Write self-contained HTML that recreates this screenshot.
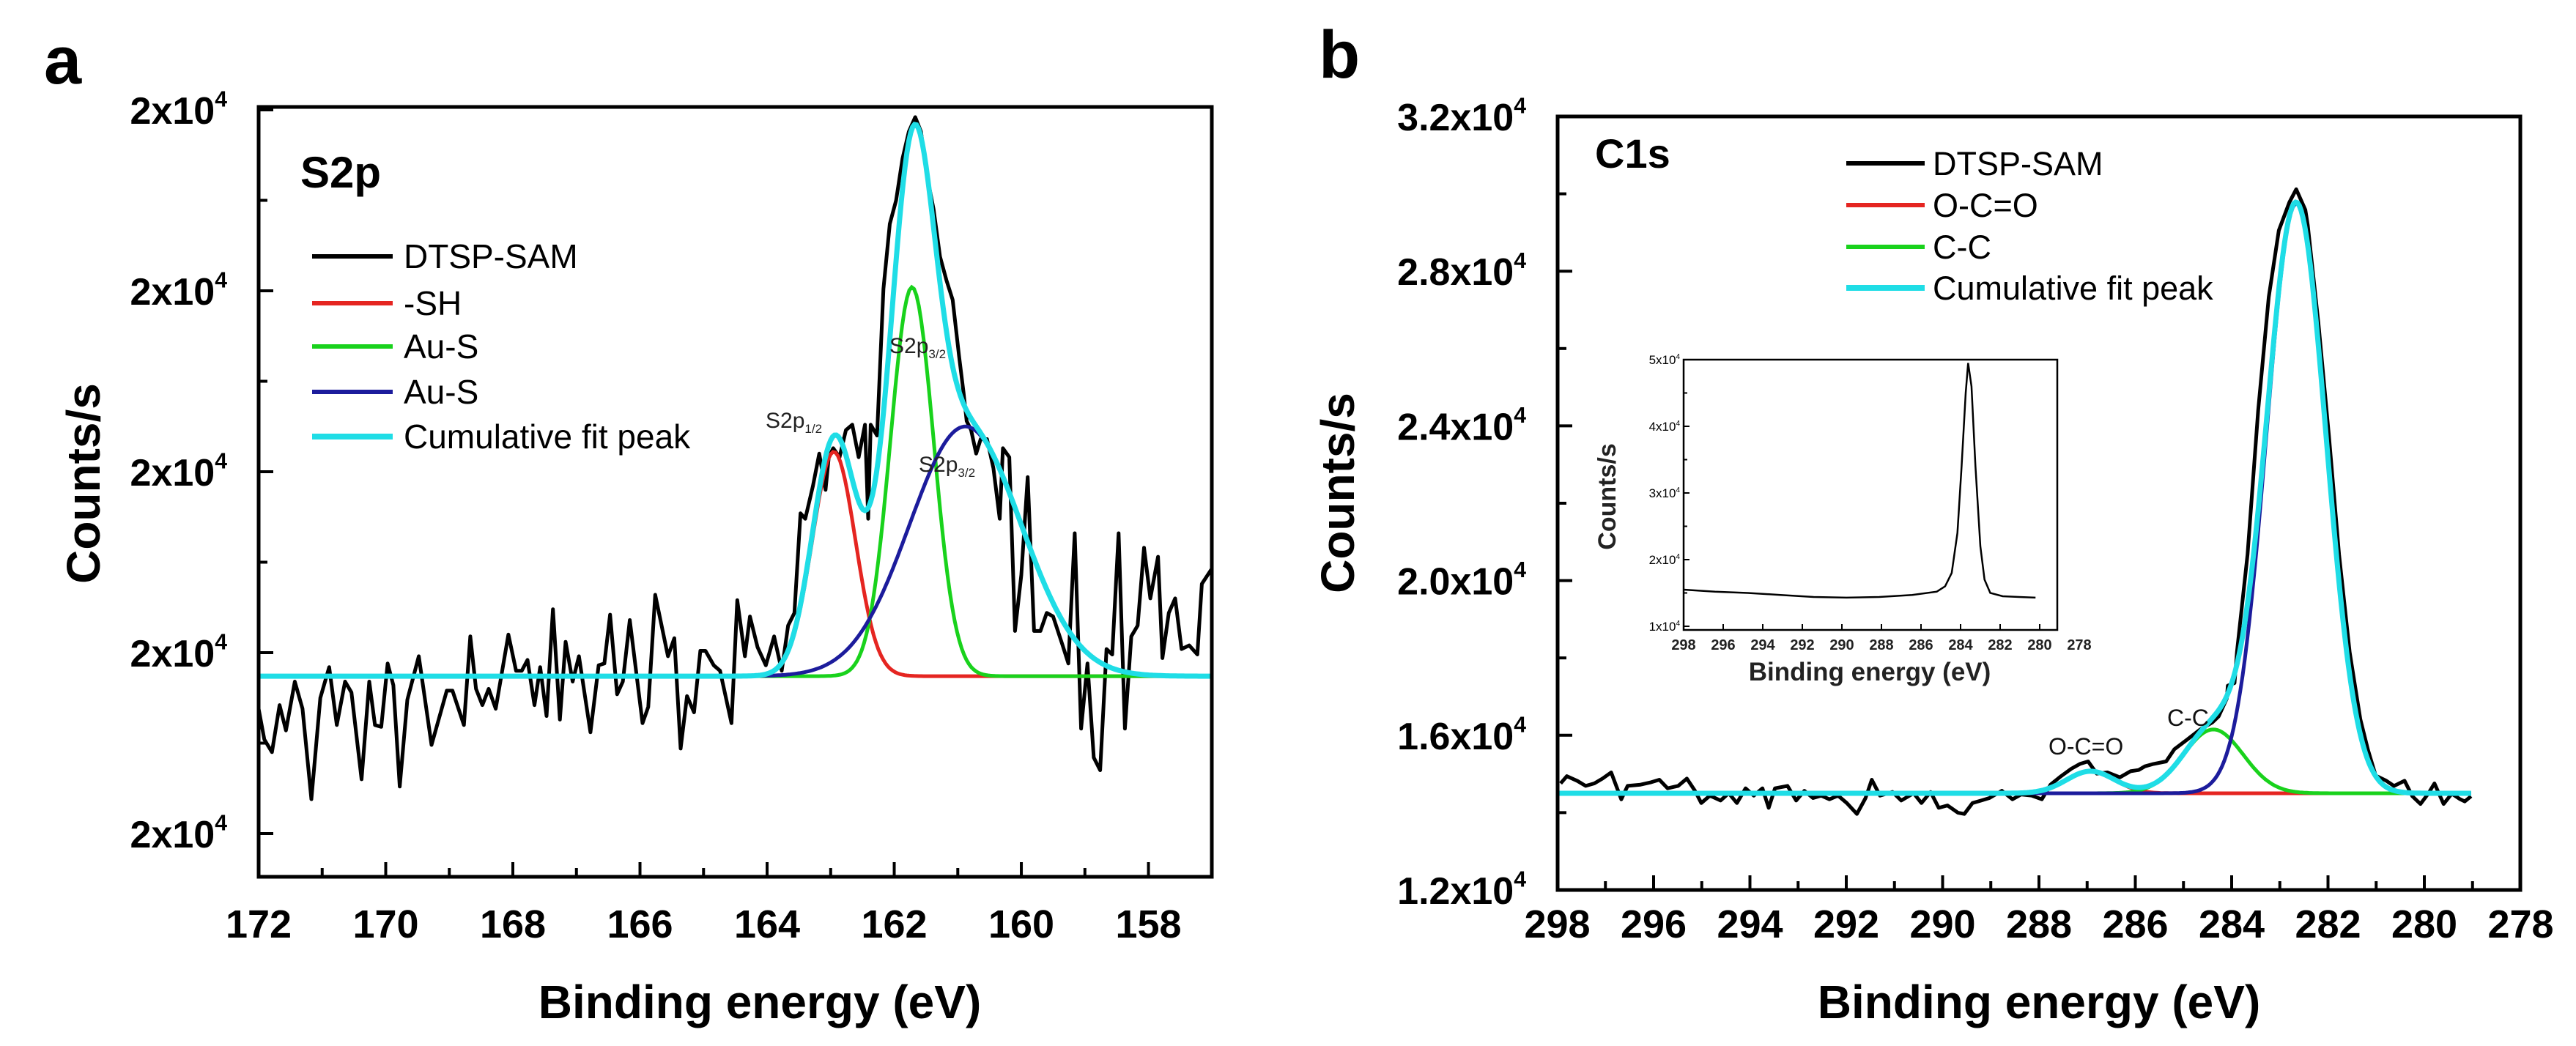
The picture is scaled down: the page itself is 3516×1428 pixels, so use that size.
<!DOCTYPE html>
<html><head><meta charset="utf-8"><style>
html,body{margin:0;padding:0;background:#fff;}
svg{display:block;font-family:"Liberation Sans",Arial,sans-serif;}
</style></head><body>
<svg id="fig" width="3516" height="1428" viewBox="0 0 3516 1428" xmlns="http://www.w3.org/2000/svg"></svg>
<script>
// ---------- Panel a (S2p) data ----------
const aEnergy = [172.0,171.91,171.79,171.67,171.57,171.43,171.31,171.17,171.03,170.89,170.77,170.64,170.54,170.38,170.26,170.17,170.07,169.97,169.88,169.78,169.66,169.48,169.28,169.04,168.95,168.77,168.67,168.58,168.48,168.38,168.27,168.07,167.95,167.86,167.77,167.66,167.57,167.47,167.37,167.26,167.17,167.06,166.96,166.78,166.65,166.56,166.47,166.36,166.27,166.16,165.96,165.87,165.76,165.56,165.46,165.36,165.26,165.15,165.05,164.97,164.84,164.74,164.56,164.47,164.35,164.27,164.15,164.02,163.89,163.77,163.67,163.57,163.475,163.40,163.28,163.18,163.08,163.03,162.96,162.86,162.76,162.66,162.56,162.46,162.41,162.37,162.27,162.17,162.07,161.97,161.87,161.77,161.67,161.58,161.48,161.38,161.28,161.18,161.08,160.98,160.91,160.86,160.79,160.71,160.64,160.54,160.44,160.34,160.29,160.19,160.10,160.00,159.90,159.80,159.70,159.60,159.50,159.35,159.26,159.16,159.06,158.96,158.86,158.76,158.66,158.57,158.47,158.37,158.27,158.17,158.07,157.97,157.85,157.78,157.68,157.58,157.48,157.36,157.23,157.16,157.01];
const aCounts = [20069,20052,20045,20071,20057,20084,20069,20019,20075,20092,20060,20084,20078,20030,20084,20060,20059,20094,20082,20026,20074,20098,20049,20079,20079,20060,20109,20080,20071,20080,20069,20110,20090,20090,20096,20071,20092,20065,20124,20063,20106,20084,20098,20056,20093,20094,20121,20077,20084,20118,20061,20070,20132,20098,20108,20047,20076,20067,20101,20101,20093,20090,20061,20129,20098,20120,20103,20093,20109,20090,20115,20122,20177,20174,20192,20210,20190,20208,20213,20208,20223,20226,20208,20226,20174,20226,20220,20301,20337,20350,20373,20388,20396,20388,20363,20345,20319,20306,20295,20264,20244,20228,20223,20210,20218,20218,20202,20174,20213,20208,20112,20143,20197,20112,20112,20122,20120,20104,20094,20166,20058,20094,20042,20035,20102,20099,20166,20058,20109,20115,20158,20130,20153,20097,20122,20130,20102,20104,20099,20138,20146];
const aBaseline = 20087;
const aPeakNames = ["-SH","Au-S","Au-S"];
const aPeakCenters = [162.95,161.72,160.88];
const aPeakHeights = [124,215,138];
const aPeakSigmas = [0.34,0.34,0.88];
const aYTicks = [20000,20100,20200,20300,20400];
const aYTickLabels = ["2x10","2x10","2x10","2x10","2x10"];
const aXTicks = [172,170,168,166,164,162,160,158];

// ---------- Panel b (C1s) data ----------
const bEnergy = [297.93,297.80,297.58,297.41,297.23,297.06,296.88,296.67,296.54,296.27,296.05,295.88,295.71,295.49,295.31,295.14,295.01,294.83,294.61,294.44,294.27,294.09,293.92,293.74,293.61,293.48,293.22,293.04,292.87,292.69,292.52,292.35,292.17,291.99,291.78,291.60,291.47,291.30,291.04,290.86,290.60,290.44,290.25,290.08,289.90,289.68,289.55,289.38,289.20,289.03,288.77,288.55,288.37,288.15,287.94,287.76,287.54,287.33,287.15,286.98,286.80,286.58,286.32,286.10,285.93,285.80,285.62,285.36,285.19,284.92,284.66,284.40,284.27,284.10,284.08,283.94,283.89,283.67,283.45,283.23,283.02,282.80,282.66,282.47,282.42,282.20,281.98,281.77,281.55,281.33,281.17,281.01,280.79,280.63,280.41,280.25,280.08,279.92,279.79,279.60,279.43,279.27,279.16,279.03];
const bCounts = [14755,14944,14818,14692,14755,14881,15039,14343,14692,14723,14786,14850,14629,14692,14881,14565,14249,14439,14312,14502,14249,14628,14439,14628,14123,14628,14692,14312,14565,14376,14439,14344,14439,14249,13965,14376,14850,14439,14534,14312,14502,14249,14534,14123,14186,13996,13965,14249,14312,14376,14565,14344,14470,14439,14344,14723,14944,15134,15260,15323,15007,15039,14913,15070,15102,15197,15260,15323,15639,15892,16144,16334,16486,16951,17283,17350,18148,20675,24399,27325,29054,29786,30118,29586,29187,26660,23734,20675,18148,16419,15621,14956,14823,14690,14823,14424,14224,14490,14756,14224,14490,14357,14290,14424];
const bBaseline = 14500;
const bPeakNames = ["O-C=O","C-C","main"];
const bPeakCenters = [286.93,284.38,282.66];
const bPeakHeights = [570,1650,15250];
const bPeakSigmas = [0.5,0.62,0.62];
const bYTicks = [12000,16000,20000,24000,28000,32000];
const bYTickLabels = ["1.2x10","1.6x10","2.0x10","2.4x10","2.8x10","3.2x10"];
const bXTicks = [298,296,294,292,290,288,286,284,282,280,278];

// ---------- Inset data ----------
const iEnergy = [298.0,296.42,294.76,293.10,291.43,289.77,288.11,286.45,285.20,284.78,284.45,284.16,283.95,283.74,283.62,283.45,283.25,283.00,282.79,282.50,281.87,281.04,280.21];
const iCounts = [15500,15200,15000,14700,14400,14300,14400,14700,15200,16000,18000,24000,34000,45000,49500,46000,34000,22000,17000,15000,14500,14400,14300];
const iYTicks = [10000,20000,30000,40000,50000];
const iYTickLabels = ["1x10","2x10","3x10","4x10","5x10"];
const iXTicks = [298,296,294,292,290,288,286,284,282,280,278];

const NS = "http://www.w3.org/2000/svg";
const svg = document.getElementById("fig");
function mk(tag, attrs, parent) {
  const e = document.createElementNS(NS, tag);
  for (const k in attrs) e.setAttribute(k, attrs[k]);
  (parent || svg).appendChild(e);
  return e;
}
function linScale(d0, d1, r0, r1) { return v => r0 + (v - d0) * (r1 - r0) / (d1 - d0); }
function pathFrom(xs, ys, sx, sy) {
  return xs.map((x, i) => (i ? "L" : "M") + sx(x).toFixed(1) + "," + sy(ys[i]).toFixed(1)).join("");
}
function gaussPath(c, h, s, base, e0, e1, sx, sy) {
  let d = "";
  const n = 400;
  for (let i = 0; i <= n; i++) {
    const e = e0 + (e1 - e0) * i / n;
    const v = base + h * Math.exp(-((e - c) ** 2) / (2 * s * s));
    d += (i ? "L" : "M") + sx(e).toFixed(1) + "," + sy(v).toFixed(1);
  }
  return d;
}
function sumPath(cs, hs, ss, base, e0, e1, sx, sy) {
  let d = "";
  const n = 500;
  for (let i = 0; i <= n; i++) {
    const e = e0 + (e1 - e0) * i / n;
    let v = base;
    for (let k = 0; k < cs.length; k++) v += hs[k] * Math.exp(-((e - cs[k]) ** 2) / (2 * ss[k] * ss[k]));
    d += (i ? "L" : "M") + sx(e).toFixed(1) + "," + sy(v).toFixed(1);
  }
  return d;
}
function supLabel(g, x, y, base, size, anchorRight, name) {
  const t = mk("text", {x: x, y: y, "font-size": size, "font-weight": "bold", "text-anchor": "end", fill: "#000"}, g);
  
  
  t.appendChild(document.createTextNode(base));
  const s = mk("tspan", {dy: -size * 0.45, "font-size": size * 0.58}, t);
  s.textContent = "4";
  return t;
}
const COL = {black: "#000", red: "#e52521", green: "#19d21c", blue: "#1c1c9c", cyan: "#1fdde6"};

function drawAxesFrame(g, L, T, R, B, sw) {
  const r = mk("rect", {x: L, y: T, width: R - L, height: B - T, fill: "none", stroke: "#000", "stroke-width": sw}, g);
  
  
}

// ================= Panel a =================
(function () {
  const g = mk("g", {});
  
  
  const L = 353, R = 1654, T = 146, B = 1197;
  const sx = linScale(172, 157, L, R + 0.3);
  const sy = linScale(20000, 20400, 1138, 150);
  const clip = mk("clipPath", {id: "clipA"}, g);
  mk("rect", {x: L, y: T, width: R - L, height: B - T}, clip);

  const pl = mk("g", {"clip-path": "url(#clipA)"}, g);
  const dl = mk("path", {d: pathFrom(aEnergy, aCounts, sx, sy), fill: "none", stroke: COL.black, "stroke-width": 5, "stroke-linejoin": "round"}, pl);
  
  
  const cc = [COL.red, COL.green, COL.blue];
  const cn = ["sh-fit-curve", "au-s-fit-curve-green", "au-s-fit-curve-blue"];
  for (let k = 0; k < aPeakCenters.length; k++) {
    const p = mk("path", {d: gaussPath(aPeakCenters[k], aPeakHeights[k], aPeakSigmas[k], aBaseline, 172, 157, sx, sy), fill: "none", stroke: cc[k], "stroke-width": 5}, pl);
    
    
  }
  const cum = mk("path", {d: sumPath(aPeakCenters, aPeakHeights, aPeakSigmas, aBaseline, 172, 157, sx, sy), fill: "none", stroke: COL.cyan, "stroke-width": 7}, pl);
  
  

  drawAxesFrame(g, L, T, R, B, 5);
  for (let i = 0; i < aYTicks.length; i++) {
    const y = sy(aYTicks[i]);
    mk("line", {x1: L, x2: L + 20, y1: y, y2: y, stroke: "#000", "stroke-width": 4}, g);
    supLabel(g, 310, y + 19, aYTickLabels[i], 52, true, "y-tick-label");
    if (i < aYTicks.length - 1) {
      const ym = sy((aYTicks[i] + aYTicks[i + 1]) / 2);
      mk("line", {x1: L, x2: L + 12, y1: ym, y2: ym, stroke: "#000", "stroke-width": 4}, g);
    }
  }
  for (let i = 0; i < aXTicks.length; i++) {
    const x = sx(aXTicks[i]);
    mk("line", {x1: x, x2: x, y1: B, y2: B - 20, stroke: "#000", "stroke-width": 4}, g);
    const t = mk("text", {x: x, y: 1280, "font-size": 54, "font-weight": "bold", "text-anchor": "middle"}, g);
    
    
    t.textContent = aXTicks[i];
    const xm = sx(aXTicks[i] - 1);
    if (aXTicks[i] - 1 > 157) mk("line", {x1: xm, x2: xm, y1: B, y2: B - 12, stroke: "#000", "stroke-width": 4}, g);
  }
  const xt = mk("text", {x: 1037, y: 1390, "font-size": 64, "font-weight": "bold", "text-anchor": "middle"}, g);
  
  
  xt.textContent = "Binding energy (eV)";
  const yt = mk("text", {x: 0, y: 0, "font-size": 64, "font-weight": "bold", "text-anchor": "middle", transform: "translate(136,660) rotate(-90)"}, g);
  
  
  yt.textContent = "Counts/s";
  const pa = mk("text", {x: 60, y: 114, "font-size": 92, "font-weight": "bold"}, g);
  
  
  pa.textContent = "a";
  const ti = mk("text", {x: 410, y: 256, "font-size": 60, "font-weight": "bold"}, g);
  
  
  ti.textContent = "S2p";
  const lg = mk("g", {}, g);
  
  
  const names = ["DTSP-SAM", "-SH", "Au-S", "Au-S", "Cumulative fit peak"];
  const cols = [COL.black, COL.red, COL.green, COL.blue, COL.cyan];
  const ys = [350, 414, 473, 535, 596];
  for (let i = 0; i < names.length; i++) {
    const e = mk("g", {}, lg);
    
    
    mk("line", {x1: 426, x2: 536, y1: ys[i], y2: ys[i], stroke: cols[i], "stroke-width": i == 4 ? 8 : 6}, e);
    const t = mk("text", {x: 551, y: ys[i] + 16, "font-size": 46}, e);
    t.textContent = names[i];
  }
  const ann = [[1045, 584, "S2p", "1/2"], [1214, 482, "S2p", "3/2"], [1254, 644, "S2p", "3/2"]];
  for (const a of ann) {
    const t = mk("text", {x: a[0], y: a[1], "font-size": 30, fill: "#222"}, g);
    
    
    t.appendChild(document.createTextNode(a[2]));
    const s = mk("tspan", {dy: 7, "font-size": 17}, t);
    s.textContent = a[3];
  }
})();

// ================= Panel b =================
(function () {
  const g = mk("g", {});
  
  
  const L = 2126, R = 3440, T = 159, B = 1215;
  const sx = linScale(298, 278, 2125.5, 3440.5);
  const sy = linScale(12000, 32000, 1215, 159);
  const clip = mk("clipPath", {id: "clipB"}, g);
  mk("rect", {x: L, y: T, width: R - L, height: B - T}, clip);
  const pl = mk("g", {"clip-path": "url(#clipB)"}, g);
  const dl = mk("path", {d: pathFrom(bEnergy, bCounts, sx, sy), fill: "none", stroke: COL.black, "stroke-width": 5, "stroke-linejoin": "round"}, pl);
  
  
  const cc = [COL.red, COL.green, COL.blue];
  const cn = ["o-c-o-fit-curve", "c-c-fit-curve", "main-fit-curve"];
  for (let k = 0; k < bPeakCenters.length; k++) {
    const p = mk("path", {d: gaussPath(bPeakCenters[k], bPeakHeights[k], bPeakSigmas[k], bBaseline, 298, 279.03, sx, sy), fill: "none", stroke: cc[k], "stroke-width": 5}, pl);
    
    
  }
  const cum = mk("path", {d: sumPath(bPeakCenters, bPeakHeights, bPeakSigmas, bBaseline, 298, 279.03, sx, sy), fill: "none", stroke: COL.cyan, "stroke-width": 7}, pl);
  
  

  drawAxesFrame(g, L, T, R, B, 5);
  for (let i = 0; i < bYTicks.length; i++) {
    const y = sy(bYTicks[i]);
    mk("line", {x1: L, x2: L + 20, y1: y, y2: y, stroke: "#000", "stroke-width": 4}, g);
    supLabel(g, 2083, y + 19, bYTickLabels[i], 52, true, "y-tick-label");
    if (i < bYTicks.length - 1) {
      const ym = sy((bYTicks[i] + bYTicks[i + 1]) / 2);
      mk("line", {x1: L, x2: L + 12, y1: ym, y2: ym, stroke: "#000", "stroke-width": 4}, g);
    }
  }
  for (let i = 0; i < bXTicks.length; i++) {
    const x = sx(bXTicks[i]);
    mk("line", {x1: x, x2: x, y1: B, y2: B - 20, stroke: "#000", "stroke-width": 4}, g);
    const t = mk("text", {x: x, y: 1280, "font-size": 54, "font-weight": "bold", "text-anchor": "middle"}, g);
    
    
    t.textContent = bXTicks[i];
    if (bXTicks[i] - 1 > 278) {
      const xm = sx(bXTicks[i] - 1);
      mk("line", {x1: xm, x2: xm, y1: B, y2: B - 12, stroke: "#000", "stroke-width": 4}, g);
    }
  }
  const xt = mk("text", {x: 2783, y: 1390, "font-size": 64, "font-weight": "bold", "text-anchor": "middle"}, g);
  
  
  xt.textContent = "Binding energy (eV)";
  const yt = mk("text", {x: 0, y: 0, "font-size": 64, "font-weight": "bold", "text-anchor": "middle", transform: "translate(1848,673) rotate(-90)"}, g);
  
  
  yt.textContent = "Counts/s";
  const pb = mk("text", {x: 1800, y: 106, "font-size": 92, "font-weight": "bold"}, g);
  
  
  pb.textContent = "b";
  const ti = mk("text", {x: 2177, y: 229, "font-size": 56, "font-weight": "bold"}, g);
  
  
  ti.textContent = "C1s";
  const lg = mk("g", {}, g);
  
  
  const names = ["DTSP-SAM", "O-C=O", "C-C", "Cumulative fit peak"];
  const cols = [COL.black, COL.red, COL.green, COL.cyan];
  const ys = [223, 280, 337, 393];
  for (let i = 0; i < names.length; i++) {
    const e = mk("g", {}, lg);
    
    
    mk("line", {x1: 2520, x2: 2627, y1: ys[i], y2: ys[i], stroke: cols[i], "stroke-width": i == 3 ? 8 : 6}, e);
    const t = mk("text", {x: 2638, y: ys[i] + 16, "font-size": 45}, e);
    t.textContent = names[i];
  }
  const a1 = mk("text", {x: 2796, y: 1030, "font-size": 32, fill: "#111"}, g);
  
  
  a1.textContent = "O-C=O";
  const a2 = mk("text", {x: 2958, y: 991, "font-size": 32, fill: "#111"}, g);
  
  
  a2.textContent = "C-C";

  const ig = mk("g", {}, g);
  
  
  const iL = 2298, iR = 2808, iT = 491, iB = 860;
  const ix = linScale(298, 278, 2298, 2298 + 20 * 27);
  const iy = linScale(10000, 50000, 855, 491);
  mk("rect", {x: iL, y: iT, width: iR - iL, height: iB - iT, fill: "#fff", stroke: "#000", "stroke-width": 2.5}, ig);
  const il = mk("path", {d: pathFrom(iEnergy, iCounts, ix, iy), fill: "none", stroke: "#000", "stroke-width": 2.5}, ig);
  
  
  for (let i = 0; i < iYTicks.length; i++) {
    const y = iy(iYTicks[i]);
    mk("line", {x1: iL, x2: iL + 8, y1: y, y2: y, stroke: "#000", "stroke-width": 2}, ig);
    if (i < iYTicks.length - 1) {
      const ym = iy(iYTicks[i] + 5000);
      mk("line", {x1: iL, x2: iL + 5, y1: ym, y2: ym, stroke: "#000", "stroke-width": 2}, ig);
    }
    const t = mk("text", {x: iL - 5, y: y + 6, "font-size": 17, "text-anchor": "end"}, ig);
    
    
    t.appendChild(document.createTextNode(iYTickLabels[i]));
    const s = mk("tspan", {dy: -7, "font-size": 10}, t);
    s.textContent = "4";
  }
  for (let i = 0; i < iXTicks.length; i++) {
    const x = ix(iXTicks[i]);
    if (x <= iR + 1) mk("line", {x1: x, x2: x, y1: iB, y2: iB - 8, stroke: "#000", "stroke-width": 2}, ig);
    const t = mk("text", {x: x, y: iB + 27, "font-size": 20, "font-weight": "bold", "text-anchor": "middle", fill: "#222"}, ig);
    
    
    t.textContent = iXTicks[i];
  }
  const ixt = mk("text", {x: 2552, y: 929, "font-size": 35, "font-weight": "bold", "text-anchor": "middle", fill: "#222"}, ig);
  
  
  ixt.textContent = "Binding energy (eV)";
  const iyt = mk("text", {x: 0, y: 0, "font-size": 34, "font-weight": "bold", "text-anchor": "middle", fill: "#222", transform: "translate(2205,678) rotate(-90)"}, ig);
  
  
  iyt.textContent = "Counts/s";
})();
</script>
</body></html>
